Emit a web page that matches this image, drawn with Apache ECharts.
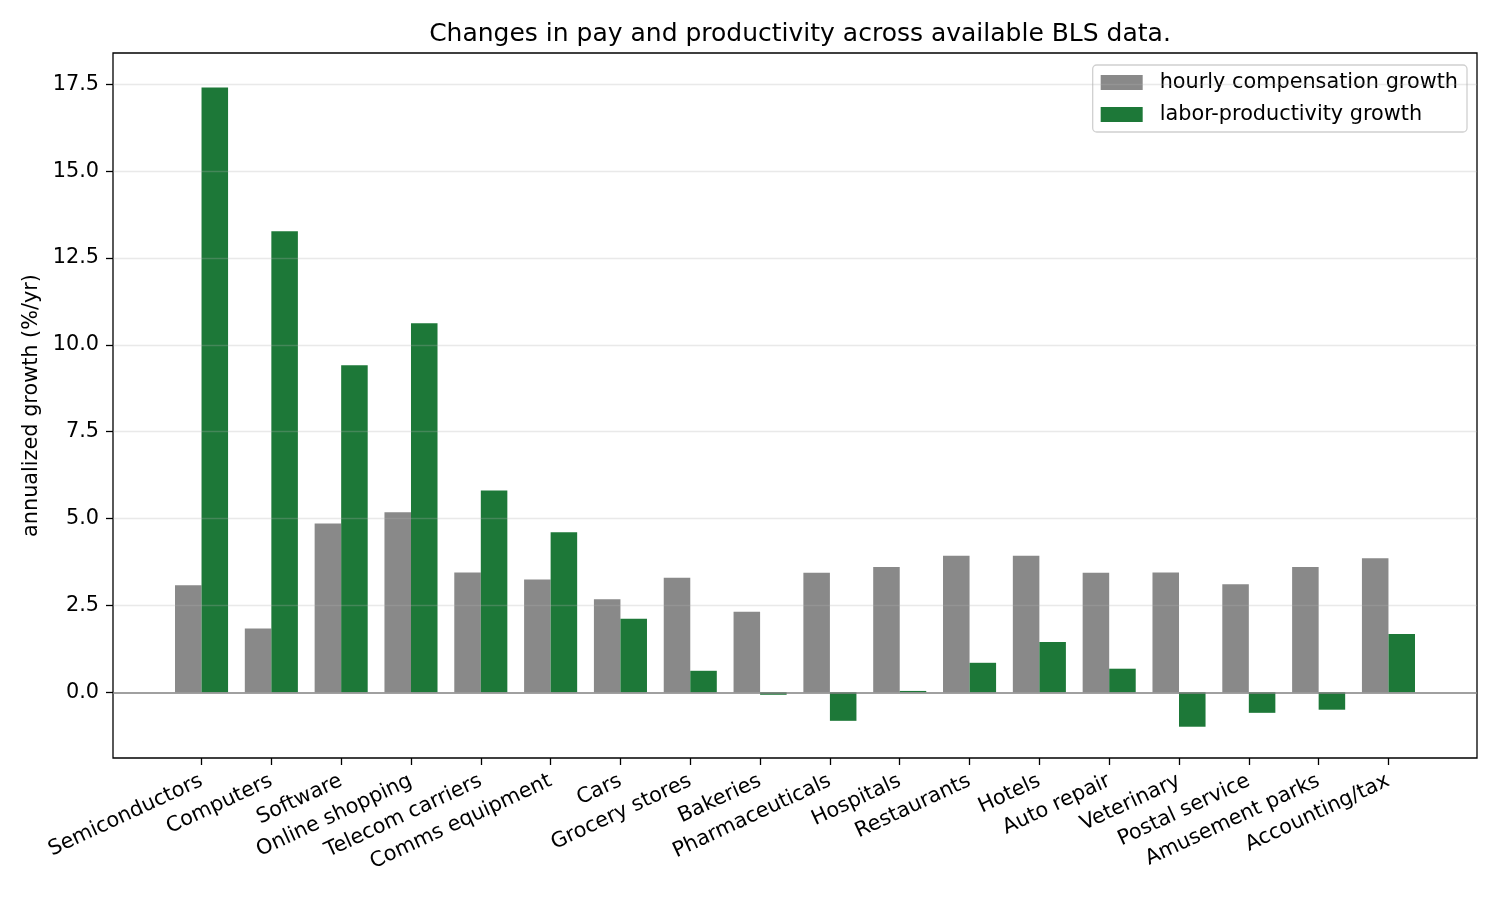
<!DOCTYPE html>
<html>
<head>
<meta charset="utf-8">
<title>BLS pay vs productivity</title>
<script src="https://cdn.jsdelivr.net/npm/echarts@6/dist/echarts.min.js"></script>
<style>
  html, body { margin: 0; padding: 0; background: #fff; }
  #main { width: 1500px; height: 900px; }
</style>
</head>
<body>
<div id="main"></div>
<script>
// industries along the x axis
var industries = ['Semiconductors', 'Computers', 'Software', 'Online shopping', 'Telecom carriers',
  'Comms equipment', 'Cars', 'Grocery stores', 'Bakeries', 'Pharmaceuticals', 'Hospitals',
  'Restaurants', 'Hotels', 'Auto repair', 'Veterinary', 'Postal service', 'Amusement parks',
  'Accounting/tax'];

// annualized growth, %/yr
var payGrowth = [3.08, 1.84, 4.86, 5.18, 3.45, 3.25, 2.68, 3.30, 2.32, 3.44, 3.61,
  3.93, 3.93, 3.44, 3.45, 3.11, 3.61, 3.86];
var productivityGrowth = [17.41, 13.27, 9.41, 10.62, 5.81, 4.61, 2.12, 0.62, -0.07, -0.82, 0.04,
  0.85, 1.45, 0.68, -0.99, -0.59, -0.50, 1.68];

var yTicks = [0, 2.5, 5, 7.5, 10, 12.5, 15, 17.5];

var BAR_W = 0.38;
var FONT = 'DejaVu Sans';

function toPoints(vals) {
  return vals.map(function (v, i) { return [i, v]; });
}

function barRenderer(offset) {
  return function (params, api) {
    var x = api.value(0);
    var a = api.coord([x + offset, 0]);
    var b = api.coord([x + offset + BAR_W, api.value(1)]);
    return {
      type: 'rect',
      shape: {
        x: a[0],
        y: Math.min(a[1], b[1]),
        width: b[0] - a[0],
        height: Math.abs(b[1] - a[1])
      },
      style: api.style()
    };
  };
}

var gridLines = yTicks.filter(function (t) { return t !== 0; }).map(function (t) {
  return { yAxis: t };
});

var chart = echarts.init(document.getElementById('main'));
chart.setOption({
  animation: false,
  title: {
    text: 'Changes in pay and productivity across available BLS data.',
    left: 795,
    textAlign: 'center',
    top: 17,
    textStyle: { fontFamily: FONT, fontSize: 25, fontWeight: 'normal', color: '#000' }
  },
  legend: {
    right: 33,
    top: 65,
    orient: 'vertical',
    itemWidth: 42,
    itemHeight: 15,
    itemGap: 11,
    icon: 'rect',
    padding: [7, 9, 7, 8],
    borderColor: '#d0d0d0',
    borderWidth: 1.3,
    borderRadius: 4,
    backgroundColor: 'rgba(255,255,255,0.8)',
    textStyle: { fontFamily: FONT, fontSize: 20.8, color: '#000', padding: [0, 0, 0, 12], lineHeight: 20 },
    data: ['hourly compensation growth', 'labor-productivity growth']
  },
  grid: {
    left: 113, right: 23, top: 53, bottom: 142,
    show: true, borderColor: '#000', borderWidth: 1.3, backgroundColor: 'transparent'
  },
  xAxis: {
    type: 'value',
    min: -1.268,
    max: 18.268,
    axisLine: { show: false, onZero: false },
    splitLine: { show: false },
    axisTick: { show: true, length: 7, lineStyle: { color: '#000', width: 1.3 }, customValues: industries.map(function (c, i) { return i; }) },
    axisLabel: {
      customValues: industries.map(function (c, i) { return i; }),
      formatter: function (v) { return industries[Math.round(v)]; },
      rotate: 25,
      margin: 22,
      fontFamily: FONT, fontSize: 20.8, color: '#000'
    }
  },
  yAxis: {
    type: 'value',
    min: -1.89,
    max: 18.40,
    name: 'annualized growth (%/yr)',
    nameLocation: 'middle',
    nameGap: 64,
    nameTextStyle: { fontFamily: FONT, fontSize: 20.8, color: '#000' },
    axisLine: { show: false, onZero: false },
    splitLine: { show: false },
    axisTick: { show: true, length: 7, lineStyle: { color: '#000', width: 1.3 }, customValues: yTicks },
    axisLabel: {
      customValues: yTicks,
      formatter: function (v) { return v.toFixed(1); },
      margin: 14,
      fontFamily: FONT, fontSize: 20.8, color: '#000'
    }
  },
  series: [
    {
      name: 'hourly compensation growth',
      type: 'custom',
      renderItem: barRenderer(-BAR_W),
      itemStyle: { color: '#898989' },
      encode: { x: 0, y: 1 },
      data: toPoints(payGrowth),
      clip: true
    },
    {
      name: 'labor-productivity growth',
      type: 'custom',
      renderItem: barRenderer(0),
      itemStyle: { color: '#1d7838' },
      encode: { x: 0, y: 1 },
      data: toPoints(productivityGrowth),
      clip: true,
      markLine: {
        silent: true,
        symbol: 'none',
        label: { show: false },
        animation: false,
        data: gridLines.map(function (d) {
          return { yAxis: d.yAxis, lineStyle: { color: 'rgba(176,176,176,0.28)', width: 1.4, type: 'solid' } };
        }).concat([{ yAxis: 0, lineStyle: { color: '#808080', width: 1.6, type: 'solid' } }])
      }
    }
  ]
});
</script>
</body>
</html>
